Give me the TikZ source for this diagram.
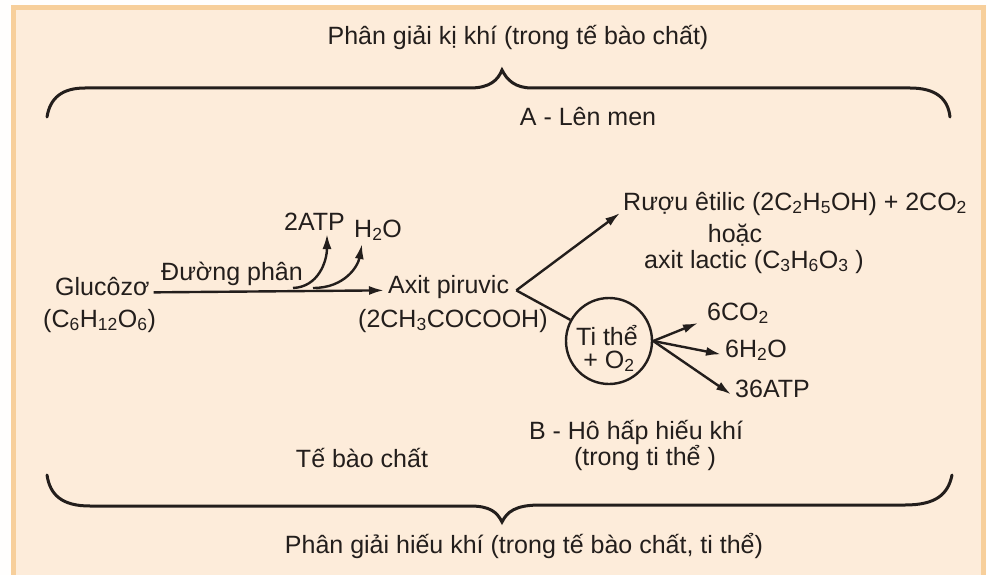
\documentclass[tikz,border=0pt]{standalone}
\usepackage{fontspec}
\setmainfont{Liberation Sans}
\usetikzlibrary{arrows.meta}

\definecolor{paper}{RGB}{253,236,218}
\definecolor{frameor}{RGB}{247,207,155}
\definecolor{ink}{RGB}{35,30,28}
\newcommand{\sub}[1]{\textsubscript{#1}}

\tikzset{
  lbl/.style={font=\fontsize{25}{30}\selectfont, text=ink, inner sep=4pt},
  flow/.style={draw=ink, line width=2.4pt, -{Latex[length=15pt,width=9pt]}},
  bracepath/.style={draw=ink, line width=3pt, line cap=round},
}

\begin{document}
\begin{tikzpicture}[x=1pt,y=-1pt]
\useasboundingbox (0,0) rectangle (987,575);
\fill[white!95!paper] (0,0) rectangle (987,575);
\filldraw[fill=paper, draw=frameor, line width=5pt] (13,8) rectangle (983,595);

% braces
\draw[bracepath] (47,117) .. controls (50,98) and (62,88) .. (85,88) -- (470,88)
  .. controls (490,88) and (498,80) .. (502,70) .. controls (507,80) and (515,88) .. (532,88)
  -- (910,88) .. controls (935,88) and (948,98) .. (950,117);
\draw[bracepath] (47,475) .. controls (50,495) and (62,506) .. (90,506) -- (470,506)
  .. controls (490,506) and (497,512) .. (502,522) .. controls (507,512) and (515,505) .. (540,505)
  -- (905,505) .. controls (935,505) and (948,495) .. (952,475);

% texts
\node[lbl, anchor=base] (anaer) at (518,45) {Phân giải kị khí (trong tế bào chất)};
\node[lbl, anchor=base] (ferm) at (588,125) {A - Lên men};
\node[lbl, anchor=base west] (glu) at (51,295) {Glucôzơ};
\node[lbl, anchor=base west] (gluf) at (39,327) {(C\sub{6}H\sub{12}O\sub{6})};
\node[lbl, anchor=base west] (glyc) at (157,280) {Đường phân};
\node[lbl, anchor=base west, inner sep=1pt] (atp2) at (283,230) {2ATP};
\node[lbl, anchor=base west, inner sep=1pt] (wat) at (353,237) {H\sub{2}O};
\node[lbl, anchor=base west] (pyr) at (384,293) {Axit piruvic};
\node[lbl, anchor=base west] (pyrf) at (354,327) {(2CH\sub{3}COCOOH)};
\node[lbl, anchor=base west] (alc) at (619,210) {Rượu êtilic (2C\sub{2}H\sub{5}OH) + 2CO\sub{2}};
\node[lbl, anchor=base] (hoac) at (735,242) {hoặc};
\node[lbl, anchor=base] (lac) at (754,268) {axit lactic (C\sub{3}H\sub{6}O\sub{3} )};
\node[circle, draw=ink, line width=2.4pt, minimum size=86pt, inner sep=0pt] (mito) at (609,341) {};
\node[lbl, anchor=base] (mitoa) at (607,345) {Ti thể};
\node[lbl, anchor=base] (mitob) at (609,368) {+ O\sub{2}};
\node[lbl, anchor=base west] (co2) at (703,320) {6CO\sub{2}};
\node[lbl, anchor=base west] (h2o) at (721,357) {6H\sub{2}O};
\node[lbl, anchor=base west] (atp36) at (731,397) {36ATP};
\node[lbl, anchor=base] (aer) at (636,439) {B - Hô hấp hiếu khí};
\node[lbl, anchor=base] (aerb) at (645,465) {(trong ti thể )};
\node[lbl, anchor=base] (cyto) at (362,467) {Tế bào chất};
\node[lbl, anchor=base] (aertot) at (524,553) {Phân giải hiếu khí (trong tế bào chất, ti thể)};

% connectors
\coordinate (br1) at (293,288);
\coordinate (br2) at (313,288);
\coordinate (atptip) at (327,234);
\coordinate (wattip) at (362,244);
\coordinate (fork) at ([xshift=3pt]pyr.mid east);
\draw[flow] (glu.mid east) -- (pyr.mid west);
\draw[flow] (br1) .. controls (318,287) and (327,262) .. (atptip);
\draw[flow] (br2) .. controls (345,288) and (358,266) .. (wattip);
\draw[flow] (fork) -- ([xshift=1pt,yshift=-3pt]alc.base west);
\draw[draw=ink, line width=2.4pt] (fork) -- (mito);
\draw[flow] (mito.east) -- ([xshift=-5pt,yshift=-3pt]co2.base west);
\draw[flow] (mito.east) -- (h2o.mid west);
\draw[flow] (mito.east) -- (atp36.mid west);
\end{tikzpicture}
\end{document}
